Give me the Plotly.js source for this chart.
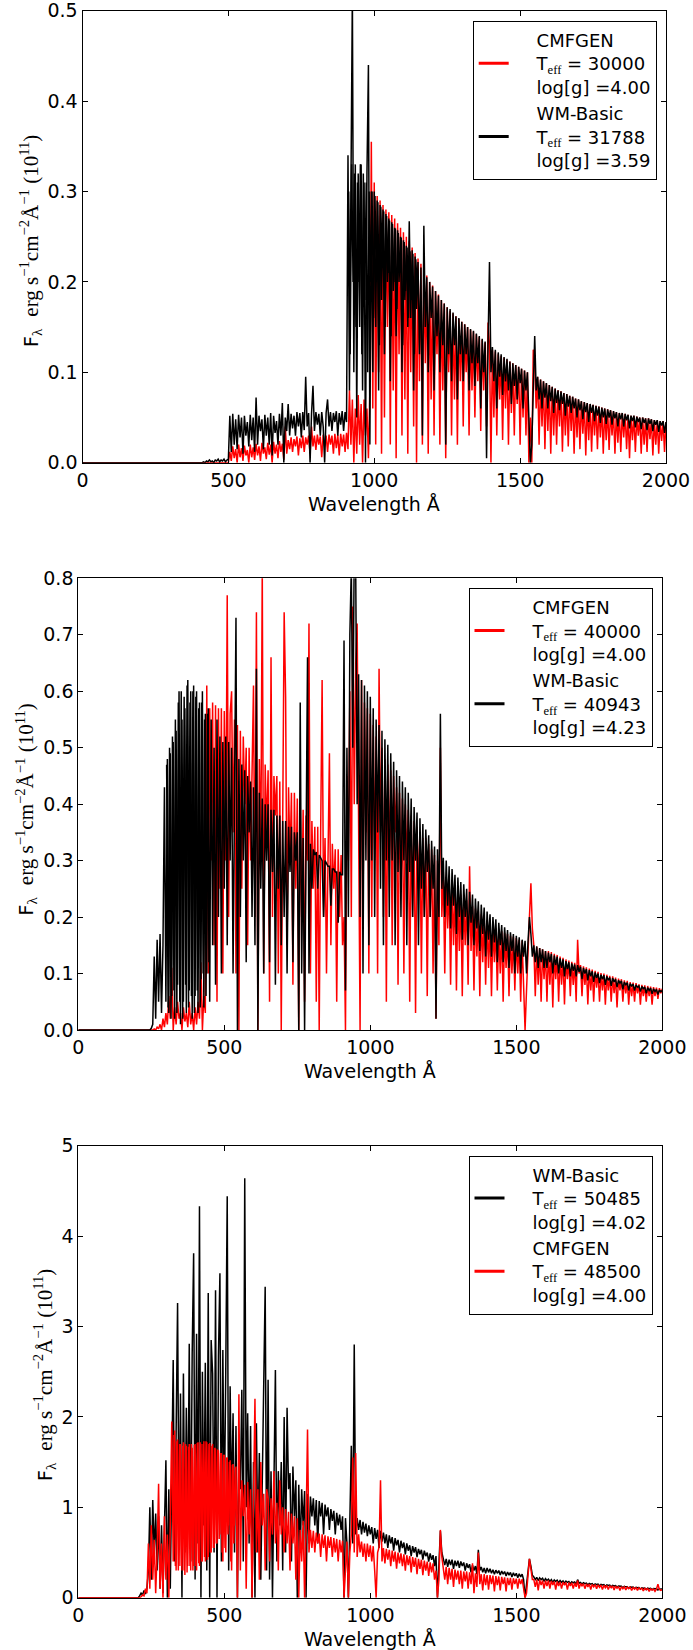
<!DOCTYPE html>
<html><head><meta charset="utf-8">
<script src="https://cdn.plot.ly/plotly-3.0.1.min.js"></script>
<style>html,body{margin:0;padding:0;background:#fff}#chart{width:693px;height:1650px}</style>
</head><body><div id="chart"></div>
<script>
// Common wavelength grid (Angstrom)
const wavelength = [0,50,100,150,200,
205,210,215,220,225,230,235,240,245,250,255,260,265,270,275,280,285,290,295,300,
305,310,315,320,325,330,335,340,345,350,355,360,365,370,375,380,385,390,395,400,
405,410,415,420,425,430,435,440,445,450,455,460,465,470,475,480,485,490,495,500,
505,510,515,520,525,530,535,540,545,550,555,560,565,570,575,580,585,590,595,600,
605,610,615,620,625,630,635,640,645,650,655,660,665,670,675,680,685,690,695,700,
705,710,715,720,725,730,735,740,745,750,755,760,765,770,775,780,785,790,795,800,
805,810,815,820,825,830,835,840,845,850,855,860,865,870,875,880,885,890,895,900,
905,910,915,920,925,930,935,940,945,950,955,960,965,970,975,980,985,990,995,1000,
1005,1010,1015,1020,1025,1030,1035,1040,1045,1050,1055,1060,1065,1070,1075,1080,1085,1090,1095,1100,
1105,1110,1115,1120,1125,1130,1135,1140,1145,1150,1155,1160,1165,1170,1175,1180,1185,1190,1195,1200,
1205,1210,1215,1220,1225,1230,1235,1240,1245,1250,1255,1260,1265,1270,1275,1280,1285,1290,1295,1300,
1305,1310,1315,1320,1325,1330,1335,1340,1345,1350,1355,1360,1365,1370,1375,1380,1385,1390,1395,1400,
1405,1410,1415,1420,1425,1430,1435,1440,1445,1450,1455,1460,1465,1470,1475,1480,1485,1490,1495,1500,
1505,1510,1515,1520,1525,1530,1535,1540,1545,1550,1555,1560,1565,1570,1575,1580,1585,1590,1595,1600,
1605,1610,1615,1620,1625,1630,1635,1640,1645,1650,1655,1660,1665,1670,1675,1680,1685,1690,1695,1700,
1705,1710,1715,1720,1725,1730,1735,1740,1745,1750,1755,1760,1765,1770,1775,1780,1785,1790,1795,1800,
1805,1810,1815,1820,1825,1830,1835,1840,1845,1850,1855,1860,1865,1870,1875,1880,1885,1890,1895,1900,
1905,1910,1915,1920,1925,1930,1935,1940,1945,1950,1955,1960,1965,1970,1975,1980,1985,1990,1995,2000];

// Panel 1 : CMFGEN 30000 / WM-Basic 31788
const p1_cmfgen = [0,0,0,0,0,
0,0,0,0,0,0,0,0,0,0,0,0,0,0,0,0,0,0,0,0,
0,0,0,0,0,0,0,0,0,0,0,0,0,0,0,0,0,0,0,0,
0,0,0,0,0,0,0,0,0,0,0,0,0,0,0,0,0,0,0,0,
.012,.002,.018,.005,.015,0,.02,.006,.016,.002,.019,.008,.014,0,.02,.006,.017,.003,.021,.008,
.018,.002,.022,.01,.017,.004,.022,.009,.02,0,.023,.01,.02,.005,.024,.012,.021,.003,.04,.01,
.025,.015,.028,.012,.026,.018,.029,.008,.027,.016,.03,.012,.028,.02,.03,.01,.04,.018,.03,.014,
.031,.02,.029,.006,.031,.018,.03,.012,.031,.02,.03,.01,.032,.016,.031,.008,.032,.018,.031,.012,
.033,.015,.08,.02,.07,0,.06,.01,.075,.02,.065,0,.07,.03,.06,.005,.08,.355,.06,.31,
.02,.295,.1,.29,.01,.285,.05,.28,.15,.277,.02,.274,.08,.27,.005,.265,.12,.26,.03,.255,
.07,.25,.01,.245,.1,.238,.04,.232,0,.226,.09,.22,.02,.214,.11,.207,.01,.2,.07,.196,
.03,.19,.12,.186,.02,.18,.08,.176,.005,.172,.1,.168,.03,.165,.07,.162,.02,.159,.09,.156,
.04,.153,.1,.15,.03,.147,.08,.145,.05,.142,.09,.139,.035,.136,.08,.133,.04,.155,.13,0,
.125,.05,.123,.03,.12,.07,.118,.025,.116,.06,.114,.02,.112,.055,.11,.03,.108,.065,.106,.02,
.104,.05,.102,.03,.1,0,.05,0,.125,.11,.06,.095,.02,.092,.04,.09,.015,.088,.035,.086,
.01,.084,.03,.082,.02,.08,.04,.079,.012,.077,.03,.076,.018,.074,.035,.073,.01,.071,.028,.07,
.015,.068,.032,.067,.008,.066,.025,.065,.012,.064,.03,.063,.015,.062,.028,.061,.01,.06,.025,.059,
.014,.058,.03,.057,.01,.056,.022,.055,.012,.055,.028,.054,.015,.053,.005,.052,.025,.052,.012,.051,
.03,.05,.01,.05,.02,.049,.012,.049,.026,.048,.008,.047,.02,.047,.01,.046,.024,.046,.012,.045];
const p1_wmbasic = [0,0,0,0,0,
0,0,0,0,0,0,0,0,0,0,0,0,0,0,0,0,0,0,0,0,
0,0,0,0,0,0,0,0,0,0,0,0,0,0,0,0,0,0,0,0,
0,0,.001,0,.002,.001,.003,.001,.002,0,.003,.002,.004,.001,.003,.002,.004,.001,.003,.004,
.052,.012,.054,.02,.048,.015,.053,.028,.05,.01,.052,.03,.045,.018,.053,.025,.05,.012,.072,.02,
.052,.035,.048,.015,.053,.03,.05,.02,.055,.008,.052,.033,.046,.02,.054,.03,.066,0,.05,.035,
.065,.03,.054,.038,.052,.03,.056,.04,.055,.028,.056,.036,.095,.04,.055,0,.054,.085,.035,.056,
.042,.054,.03,.056,.04,0,.055,.07,.04,.056,.035,.055,.045,.057,.03,.055,.042,.057,.035,.056,
.045,.34,.08,.32,.52,.1,.33,.05,.32,.15,.33,.08,.31,0,.32,.44,.02,.3,.1,.3,
.15,.29,.08,.285,.18,.28,.12,.275,.2,.27,.09,.266,.19,.26,.14,.257,.2,.25,.1,.246,
.18,.24,.15,.267,.16,.235,.08,.228,.17,.222,.12,.216,.03,.262,.15,.205,.1,.2,.16,.195,
.08,.19,.14,.185,.1,.18,.13,.176,.02,.172,.12,.17,.09,.166,.13,.162,.07,.16,.12,.156,
.09,.153,.12,.15,.08,.148,.11,.146,.085,.143,.11,.14,.06,.137,.1,.134,.005,.13,.222,.1,
.128,.09,.125,.06,.122,.095,.12,.075,.117,.09,.115,.08,.112,.065,.11,.085,.108,.07,.106,.088,
.104,.06,.102,.08,.1,.05,0,.02,.1,.14,.08,.095,.07,.092,.06,.09,.072,.088,.06,.086,
.068,.084,.055,.082,.066,.08,.058,.079,.065,.077,.052,.076,.062,.074,.055,.073,.06,.071,.05,.07,
.058,.068,.048,.067,.056,.066,.045,.065,.055,.064,.046,.063,.052,.062,.044,.061,.05,.06,.043,.059,
.05,.058,.042,.057,.049,.056,.04,.055,.048,.055,.04,.054,.047,.053,.038,.052,.046,.052,.039,.051,
.045,.05,.037,.05,.044,.049,.036,.049,.043,.048,.035,.047,.042,.047,.034,.046,.041,.046,.033,.045];
// extra WM-Basic samples between grid points (densest part of panel 1)
const p1_wmbasic_mid_wl = [912.5,917.5,922.5,927.5,932.5,937.5,942.5,947.5,952.5,957.5,
962.5,967.5,972.5,977.5,982.5,987.5,992.5,997.5,1002.5,1007.5,
1012.5,1017.5,1022.5,1027.5,1032.5,1037.5,1042.5,1047.5,1052.5,1057.5,
1062.5,1067.5,1072.5,1077.5,1082.5,1087.5,1092.5,1097.5,1102.5,1107.5,
1112.5,1117.5,1122.5,1127.5,1132.5,1137.5,1142.5,1147.5];
const p1_wmbasic_mid = [.3,.12,.33,.2,.32,.15,.31,.2,.33,.12,
.32,.18,.31,.1,.3,.2,.3,.16,.295,.2,
.288,.13,.283,.22,.278,.15,.273,.21,.268,.14,
.264,.2,.259,.17,.254,.21,.249,.13,.244,.19,
.238,.16,.234,.18,.231,.12,.225,.19];

// Panel 2 : CMFGEN 40000 / WM-Basic 40943
const p2_cmfgen = [0,0,0,0,0,
0,0,0,0,0,0,0,0,0,0,0,.002,0,.005,.002,.01,0,.02,.005,.03,
.01,.06,.02,.11,0,.04,.01,.05,.02,.03,0,.04,.015,.03,.005,.05,.01,.03,0,.04,
.01,.05,.02,.12,0,.06,.03,.61,.1,.57,.3,.58,.15,.575,.05,.57,.25,.57,.1,.565,
.3,.77,.2,.56,.6,.35,.55,.1,.54,0,.53,.25,.52,.4,.5,.15,.5,.3,.49,.61,
.2,.74,0,.48,.3,.82,.1,.47,.35,.46,.05,.66,.2,.45,.38,.45,.1,.44,0,.44,
.74,.59,.15,.43,.3,.42,.08,.42,.25,.41,0,.4,.2,.39,.05,.38,.3,.72,.1,.37,
.25,.36,.05,.36,0,.35,.62,.2,.34,.1,.34,.49,.15,.33,.25,.32,.05,.32,.2,.31,
.15,.2,0,.45,.3,.6,.2,.75,.4,.65,.72,.3,0,.62,.2,.58,.35,.57,.1,.56,
.2,.54,.3,.52,.1,.64,.35,.5,.2,.48,.05,.47,.3,.46,.15,.45,.35,.43,.08,.42,
.25,.41,.1,.4,.3,.39,.05,.38,.2,.37,.03,.36,.25,.35,.1,.34,.2,.34,.06,.33,
.2,.32,.1,.31,.02,.3,.15,.5,.2,.28,.1,.27,.18,.265,.08,.26,.15,.25,.07,.245,
.14,.24,.06,.235,.15,.23,.08,.29,.14,.22,.07,.215,.13,.21,.06,.205,.12,.2,.08,.195,
.11,.19,.06,.185,.12,.18,.07,.178,.1,.175,.05,.172,.11,.17,.06,.167,.1,.165,.07,.163,
.1,.16,.05,.158,.09,0,.07,.155,.2,.26,.18,.15,.06,.148,.08,.145,.05,.143,.09,.14,
.05,.14,.08,.138,.04,.135,.09,.133,.05,.13,.08,.128,.045,.125,.09,.123,.06,.121,.08,.119,
.05,.16,.1,.115,.06,.113,.08,.111,.045,.109,.07,.107,.05,.105,.075,.103,.05,.101,.07,.1,
.045,.098,.07,.096,.05,.095,.065,.093,.04,.091,.07,.09,.05,.088,.065,.087,.045,.085,.06,.084,
.05,.083,.065,.081,.045,.08,.06,.079,.05,.078,.06,.077,.045,.076,.06,.075,.055,.074,.065,.073];
const p2_wmbasic = [0,0,0,0,0,
0,0,0,0,0,0,0,0,0,.003,.01,.13,.02,.16,.05,.17,.03,.15,.43,.05,
.48,.03,.49,.06,.51,.02,.53,.08,.6,.01,.55,.05,.57,.03,.62,.07,.6,.02,.61,.06,
.6,.03,.58,.09,.6,.04,.56,.1,.57,.05,.55,.15,.5,.08,.55,.2,.52,.1,.51,.25,
.52,.15,.51,.3,.5,.1,.49,.73,0,.48,.2,.47,.3,.46,.12,.45,.35,.44,.2,.43,
.15,.64,0,.42,.25,.41,.1,.4,.3,.4,.12,.39,.28,.39,.08,.38,.25,.38,.15,.37,
.2,.37,.1,.36,.28,.36,.12,.35,.3,.35,0,.58,.1,.34,0,.33,.66,.1,.33,.25,
.32,.31,.315,.25,.31,.305,.3,.2,.3,.295,.29,.29,.22,.285,.285,.28,.28,.19,.28,.275,
.275,.69,.07,.5,.2,.7,.82,.5,.85,.82,.4,.63,.2,.62,.1,.61,.3,.6,.15,.59,
.3,.57,.2,.55,.35,.54,.25,.53,.15,.515,.3,.505,.2,.49,.3,.475,.15,.46,.28,.45,
.2,.44,.3,.43,.15,.42,.28,.41,.2,.395,.3,.385,.15,.375,.25,.365,.2,.355,.28,.345,
.2,.335,.25,.325,.02,.32,.2,.56,.25,.305,.2,.3,.22,.29,.18,.285,.22,.275,.17,.27,
.2,.262,.16,.258,.2,.25,.15,.245,.19,.24,.15,.233,.18,.228,.14,.222,.17,.217,.13,.21,
.16,.205,.13,.2,.155,.196,.12,.19,.15,.186,.12,.182,.14,.177,.11,.173,.14,.17,.1,.167,
.13,.164,.1,.16,.13,.158,.1,.155,.2,.17,.13,.15,.12,.148,.11,.145,.12,.143,.11,.14,
.11,.137,.12,.135,.1,.132,.115,.13,.1,.127,.11,.125,.095,.122,.108,.12,.095,.118,.105,.116,
.095,.115,.103,.112,.09,.11,.1,.108,.088,.106,.095,.104,.085,.102,.092,.1,.083,.098,.09,.097,
.08,.095,.088,.093,.078,.092,.085,.09,.076,.088,.083,.087,.072,.085,.08,.084,.07,.082,.078,.081,
.07,.08,.076,.078,.068,.077,.073,.076,.065,.075,.07,.074,.064,.073,.068,.072,.063,.071,.068,.07];
// extra WM-Basic samples between grid points (saturated block 300-450 A)
const p2_wmbasic_mid_wl = [302.5,307.5,312.5,317.5,322.5,327.5,332.5,337.5,342.5,347.5,
352.5,357.5,362.5,367.5,372.5,377.5,382.5,387.5,392.5,397.5,
402.5,407.5,412.5,417.5,422.5,427.5,432.5,437.5,442.5,447.5];
const p2_wmbasic_mid = [.47,.04,.5,.02,.52,.07,.55,.03,.58,.05,
.6,.02,.59,.08,.61,.04,.58,.06,.6,.03,
.59,.07,.57,.04,.58,.1,.55,.06,.56,.12];

// Panel 3 : WM-Basic 50485 / CMFGEN 48500
const p3_wmbasic = [0,0,0,0,0,
0,.02,.05,.03,.08,.04,.1,.3,1.0,.2,1.08,.5,.93,.3,.9,.1,.8,.05,.7,1.52,
0,1.2,.1,1.8,2.63,.4,1.9,3.26,.6,2.26,0,2.48,.5,2.1,.8,2.81,.4,2.7,3.81,.2,
2.92,.6,4.33,0,2.5,.8,2.6,.3,3.37,0,2.85,2.48,.5,3.4,0,2.67,3.59,.4,2.74,.9,
2.5,4.44,.3,2.34,1.0,2.04,.5,1.9,0,1.5,1.2,2.3,.4,4.64,1.0,2.04,.6,1.9,0,1.5,
0,1.93,.5,1.6,.2,1.5,2.45,3.44,.3,2.41,.2,1.4,0,1.6,2.52,.4,1.4,.8,1.5,.3,
2.0,.5,2.1,1.2,1.38,.4,1.45,.9,1.3,0,1.25,.5,1.2,.8,1.18,0,1.15,.6,1.12,.9,
1.1,.8,1.08,.6,1.07,.9,1.05,.7,1.03,.9,1.0,.75,.98,.85,.96,.7,.94,.8,.92,.75,
.9,0,.88,.6,0,.86,1.68,.6,2.8,.7,.88,.75,.86,.7,.84,.72,.82,.68,.8,.7,
.78,.6,.77,.65,.75,.55,.74,.62,.72,.6,.7,.55,.69,.6,.67,.52,.66,.58,.64,.5,
.63,.55,.61,.48,.6,.52,.58,.46,.57,.5,.56,.45,.54,.48,.53,.42,.52,.46,.5,.4,
.49,.42,.47,.35,.46,0,.3,.74,.5,.44,.36,.43,.34,.42,.36,.42,.32,.41,.35,.41,
.33,.4,.35,.39,.3,.38,.33,.37,.28,.36,.3,.35,.26,.53,.3,.34,.28,.33,.27,.33,
.28,.32,.27,.31,.26,.305,.27,.3,.25,.295,.26,.29,.24,.285,.25,.28,.23,.275,.24,.27,
.22,.265,.23,.26,.2,0,.15,.3,.43,.35,.25,.23,.2,.225,.19,.22,.2,.215,.18,.21,
.19,.205,.18,.2,.17,.197,.18,.193,.165,.19,.17,.186,.16,.183,.17,.18,.155,.177,.165,.174,
.15,.2,.16,.168,.15,.165,.155,.162,.14,.159,.15,.156,.135,.153,.145,.15,.13,.147,.14,.145,
.125,.142,.135,.139,.12,.136,.13,.133,.115,.13,.125,.128,.11,.125,.12,.122,.105,.12,.115,.117,
.1,.115,.11,.112,.095,.11,.105,.108,.09,.106,.1,.104,.088,.102,.098,.1,.085,.099,.095,.097];
const p3_cmfgen = [0,0,0,0,0,
0,0,.01,.03,.02,.1,.05,.6,.1,.8,.2,.64,.05,.5,1.26,.1,.6,0,.9,.2,
.7,0,.8,1.95,.4,1.85,.3,1.75,.35,1.7,.3,1.72,.25,1.68,.35,1.7,.3,1.66,.35,1.7,
.3,1.72,.35,1.7,.4,1.73,.4,1.72,.45,1.71,.5,1.7,.55,1.65,.6,1.63,.7,1.6,.4,1.58,
.5,1.55,.8,1.52,.3,1.48,.8,1.45,0,2.25,.3,1.3,.9,1.25,.1,1.28,.7,1.2,0,1.25,
2.2,.5,1.2,.2,1.5,.8,1.15,.3,1.2,1.1,.4,1.1,.7,1.4,.6,1.05,.3,1.3,.7,1.0,
.5,.98,.6,.95,.3,.93,.6,.9,.2,.88,0,.75,.4,.85,0,.78,1.86,.5,.75,.55,
.74,.5,.72,.6,.71,.45,.7,.55,.69,.4,.68,.55,.67,.45,.66,.5,.65,.4,.64,.5,
.63,0,.3,.62,0,.5,.7,1.55,.5,1.6,.45,.7,.5,.62,.45,.6,.4,.6,.45,.58,
.4,.57,.3,0,.5,.56,1.3,.4,.55,.38,.54,.42,.53,.35,.52,.4,.51,.32,.5,.38,
.49,.35,.48,.3,.47,.36,.46,.28,.45,.34,.44,.26,.43,.32,.42,.25,.41,.3,.4,.24,
.39,.28,.38,.2,.3,0,.2,.75,.45,.35,.2,.34,.15,.33,.2,.32,.12,.31,.2,.3,
.15,.3,.1,.29,.18,.29,.1,.28,.15,.38,.05,.27,.12,.5,.15,.26,.08,.26,.14,.25,
.09,.25,.15,.245,.07,.24,.14,.235,.08,.23,.15,.225,.07,.22,.14,.22,.09,.215,.15,.21,
.1,.21,.15,.205,.1,0,.05,.25,.43,.32,.2,.2,.12,.2,.08,.2,.14,.19,.1,.19,
.13,.19,.1,.185,.14,.18,.09,.18,.13,.175,.1,.172,.14,.17,.09,.167,.13,.165,.1,.162,
.12,.19,.1,.157,.13,.155,.1,.152,.12,.15,.09,.147,.12,.145,.1,.142,.115,.14,.09,.138,
.11,.135,.09,.133,.11,.13,.085,.128,.105,.125,.08,.122,.1,.12,.085,.118,.1,.115,.08,.113,
.095,.11,.08,.108,.095,.105,.075,.103,.09,.1,.07,.098,.085,.096,.07,.094,.15,.09,.08,.09];
// extra CMFGEN samples between grid points (saturated block 325-540 A)
const p3_cmfgen_mid_wl = [327.5,332.5,337.5,342.5,347.5,352.5,357.5,362.5,367.5,372.5,
377.5,382.5,387.5,392.5,397.5,402.5,407.5,412.5,417.5,422.5,
427.5,432.5,437.5,442.5,447.5,452.5,457.5,462.5,467.5,472.5,
477.5,482.5,487.5,492.5,497.5,502.5,507.5,512.5,517.5,522.5,
527.5,532.5,537.5];
const p3_cmfgen_mid = [1.8,.35,1.73,.3,1.7,.35,1.68,.3,1.7,.28,
1.67,.35,1.7,.3,1.69,.35,1.71,.38,1.72,.4,
1.7,.45,1.73,.42,1.7,.5,1.68,.55,1.66,.6,
1.64,.65,1.6,.5,1.58,.55,1.55,.7,1.5,.4,
1.47,.6,1.44];

// Tick values / labels
const xTicks = [0,500,1000,1500,2000];
const xTickText = ['0','500','1000','1500','2000'];
const y1Ticks = [0,0.1,0.2,0.3,0.4,0.5];
const y1TickText = ['0.0','0.1','0.2','0.3','0.4','0.5'];
const y2Ticks = [0,0.1,0.2,0.3,0.4,0.5,0.6,0.7,0.8];
const y2TickText = ['0.0','0.1','0.2','0.3','0.4','0.5','0.6','0.7','0.8'];
const y3Ticks = [0,1,2,3,4,5];
const y3TickText = ['0','1','2','3','4','5'];

// Legend entries: model name, Teff, log g
const p1Models = ['CMFGEN', 'WM-Basic'], p1Teff = ['30000', '31788'], p1Logg = ['4.00', '3.59'];
const p2Models = ['CMFGEN', 'WM-Basic'], p2Teff = ['40000', '40943'], p2Logg = ['4.00', '4.23'];
const p3Models = ['WM-Basic', 'CMFGEN'], p3Teff = ['50485', '48500'], p3Logg = ['4.02', '4.00'];

const PAD = '\u00a0\u00a0\u00a0\u00a0';
const EFF = 'T<sub><span style="font-family:Liberation Serif">eff</span></sub>';
const legLabel = (m, t, g) => PAD + m + '<br>' + PAD + EFF + ' = ' + t + '<br>' + PAD + 'log[g] =' + g;

const xTitle = 'Wavelength Å';
const SERIF = 'font-family:Liberation Serif;font-size:21px';
const yTitle = 'F<sub><span style="font-family:Liberation Serif;font-size:15px">λ</span></sub>\u00a0\u00a0<span style="' + SERIF + '">erg s<sup>−1</sup>cm<sup>−2</sup>Å<sup>−1</sup>\u00a0(10<sup>11</sup>)</span>';

// ---- layout geometry (px) ----
const W = 693, H = 1650;
const FONT = 'DejaVu Sans, sans-serif';
const RED = '#ff0000', BLACK = '#000000';
const LW = 1.5;
const boxes = [
  {l:82.5, r:666, t:10.7, b:462.7},
  {l:78.3, r:662.3, t:578.3, b:1030},
  {l:78.3, r:662.3, t:1145.7, b:1597.7}
];
const fx = v => v / W, fy = v => 1 - v / H;

function xAxis(bx, anchor) {
  return {domain:[fx(bx.l), fx(bx.r)], anchor, range:[0,2000], tickvals:xTicks, ticktext:xTickText,
    ticks:'inside', ticklen:5, tickwidth:1, tickcolor:'#000', showline:true, linecolor:'#000', linewidth:1,
    mirror:'allticks', showgrid:false, zeroline:false, fixedrange:true, ticklabeloverflow:'allow',
    tickfont:{family:FONT, size:19, color:'#000'}};
}
function yAxis(bx, anchor, range, tv, tt) {
  return {domain:[fy(bx.b), fy(bx.t)], anchor, range, tickvals:tv, ticktext:tt,
    ticks:'inside', ticklen:5, tickwidth:1, tickcolor:'#000', showline:true, linecolor:'#000', linewidth:1,
    mirror:'allticks', showgrid:false, zeroline:false, fixedrange:true, ticklabeloverflow:'allow',
    tickfont:{family:FONT, size:19, color:'#000'}};
}
function spec(x, y, color, xa, ya) {
  return {x, y, xaxis:xa, yaxis:ya, type:'scatter', mode:'lines',
    line:{color, width:LW}, showlegend:false, hoverinfo:'skip'};
}
function legItem(name, color, xa, ya, leg) {
  return {x:[null], y:[null], xaxis:xa, yaxis:ya, type:'scatter', mode:'lines',
    line:{color, width:3}, name, legend:leg, showlegend:true};
}
const traces = [
  spec(wavelength, p1_cmfgen, RED, 'x', 'y'), spec(wavelength, p1_wmbasic, BLACK, 'x', 'y'),
  spec(p1_wmbasic_mid_wl, p1_wmbasic_mid, BLACK, 'x', 'y'),
  spec(wavelength, p2_cmfgen, RED, 'x2', 'y2'), spec(wavelength, p2_wmbasic, BLACK, 'x2', 'y2'),
  spec(p2_wmbasic_mid_wl, p2_wmbasic_mid, BLACK, 'x2', 'y2'),
  spec(wavelength, p3_wmbasic, BLACK, 'x3', 'y3'), spec(wavelength, p3_cmfgen, RED, 'x3', 'y3'),
  spec(p3_cmfgen_mid_wl, p3_cmfgen_mid, RED, 'x3', 'y3'),
  legItem(legLabel(p1Models[0], p1Teff[0], p1Logg[0]), RED, 'x', 'y', 'legend'),
  legItem(legLabel(p1Models[1], p1Teff[1], p1Logg[1]), BLACK, 'x', 'y', 'legend'),
  legItem(legLabel(p2Models[0], p2Teff[0], p2Logg[0]), RED, 'x2', 'y2', 'legend2'),
  legItem(legLabel(p2Models[1], p2Teff[1], p2Logg[1]), BLACK, 'x2', 'y2', 'legend2'),
  legItem(legLabel(p3Models[0], p3Teff[0], p3Logg[0]), BLACK, 'x3', 'y3', 'legend3'),
  legItem(legLabel(p3Models[1], p3Teff[1], p3Logg[1]), RED, 'x3', 'y3', 'legend3')
];
function legend(rightPx, topPx) {
  return {x:fx(rightPx), y:fy(topPx), xanchor:'right', yanchor:'top', bgcolor:'#ffffff',
    bordercolor:'#000', borderwidth:1, font:{family:FONT, size:18, color:'#000'},
    traceorder:'normal', valign:'middle', itemwidth:30, tracegroupgap:0};
}
const titleFont = {family:FONT, size:19, color:'#000'};
const yTitleX = [31, 25.5, 44], yTitleY = [241, 810, 1375];
const annotations = [];
boxes.forEach((bx, i) => {
  annotations.push({xref:'paper', yref:'paper', x:fx((bx.l+bx.r)/2), y:fy(bx.b+41), text:xTitle,
    showarrow:false, xanchor:'center', yanchor:'middle', font:titleFont});
  annotations.push({xref:'paper', yref:'paper', x:fx(yTitleX[i]), y:fy(yTitleY[i]), text:yTitle,
    showarrow:false, xanchor:'center', yanchor:'middle', textangle:-90, font:titleFont});
});
const layout = {
  width:W, height:H, margin:{l:0, r:0, t:0, b:0}, paper_bgcolor:'#fff', plot_bgcolor:'#fff',
  font:{family:FONT, size:19, color:'#000'},
  xaxis:xAxis(boxes[0], 'y'), yaxis:yAxis(boxes[0], 'x', [0,0.5], y1Ticks, y1TickText),
  xaxis2:xAxis(boxes[1], 'y2'), yaxis2:yAxis(boxes[1], 'x2', [0,0.8], y2Ticks, y2TickText),
  xaxis3:xAxis(boxes[2], 'y3'), yaxis3:yAxis(boxes[2], 'x3', [0,5], y3Ticks, y3TickText),
  legend:legend(656.7, 20.7), legend2:legend(652.5, 588), legend3:legend(652.5, 1155.5),
  annotations, showlegend:true
};
Plotly.newPlot('chart', traces, layout, {staticPlot:true, displayModeBar:false});
</script></body></html>
